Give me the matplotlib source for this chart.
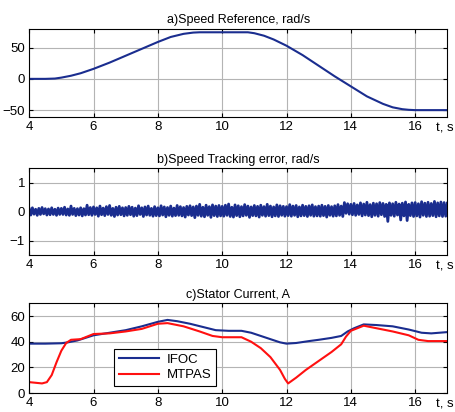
import numpy as np
import matplotlib.pyplot as plt

plt.rcParams['font.family'] = ['Liberation Sans', 'DejaVu Sans']

# a) speed reference, rad/s
t_ref = [4.0, 4.5, 4.8, 5.0, 5.3, 5.6, 6.0, 6.5, 7.0, 7.5, 8.0, 8.4, 8.8, 9.1, 9.3,
         10.0, 10.8, 11.0, 11.3, 11.6, 12.0, 12.5, 13.0, 13.5, 14.0, 14.5, 15.0,
         15.3, 15.6, 15.8, 16.0, 17.0]
w_ref = [0, 0, 0.5, 2, 5, 9, 16, 26, 37, 48, 59, 67, 72, 74, 74.5,
         74.5, 74.5, 73, 69, 63, 53, 38, 21, 4, -12, -28, -40,
         -45.5, -48.5, -49.5, -50, -50]

# b) speed tracking error, rad/s (one row per second)
err = [
    0.10, -0.12, 0.13, -0.09, 0.08, -0.13, 0.11, -0.10, 0.14, -0.08, 0.10, -0.12, 0.09, -0.11, 0.13, -0.10, 0.08, -0.13, 0.12, -0.10,
    0.11, -0.10, 0.15, -0.12, 0.09, -0.13, 0.19, -0.10, 0.11, -0.14, 0.10, -0.12, 0.13, -0.15, 0.10, -0.12, 0.22, -0.11, 0.14, -0.13,
    0.16, -0.10, 0.13, -0.16, 0.19, -0.11, 0.12, -0.14, 0.17, -0.10, 0.21, -0.13, 0.11, -0.17, 0.15, -0.12, 0.18, -0.11, 0.13, -0.15,
    0.14, -0.13, 0.18, -0.11, 0.15, -0.16, 0.12, -0.14, 0.20, -0.10, 0.13, -0.17, 0.16, -0.12, 0.19, -0.13, 0.11, -0.16, 0.17, -0.14,
    0.13, -0.15, 0.20, -0.12, 0.16, -0.18, 0.14, -0.13, 0.19, -0.16, 0.12, -0.14, 0.21, -0.13, 0.17, -0.15, 0.14, -0.19, 0.18, -0.12,
    0.20, -0.14, 0.16, -0.21, 0.19, -0.13, 0.25, -0.16, 0.15, -0.18, 0.22, -0.13, 0.17, -0.20, 0.23, -0.14, 0.19, -0.17, 0.21, -0.15,
    0.18, -0.16, 0.22, -0.13, 0.26, -0.17, 0.15, -0.19, 0.23, -0.14, 0.20, -0.18, 0.17, -0.15, 0.24, -0.13, 0.19, -0.20, 0.16, -0.14,
    0.21, -0.15, 0.18, -0.19, 0.22, -0.13, 0.17, -0.16, 0.25, -0.14, 0.19, -0.18, 0.16, -0.15, 0.23, -0.17, 0.20, -0.13, 0.18, -0.16,
    0.17, -0.14, 0.24, -0.16, 0.19, -0.13, 0.21, -0.18, 0.16, -0.15, 0.22, -0.14, 0.18, -0.17, 0.20, -0.13, 0.23, -0.16, 0.17, -0.15,
    0.19, -0.16, 0.22, -0.14, 0.18, -0.19, 0.21, -0.13, 0.17, -0.16, 0.20, -0.15, 0.24, -0.13, 0.19, -0.17, 0.31, -0.06, 0.27, -0.09,
    0.25, -0.11, 0.28, -0.13, 0.23, -0.10, 0.30, -0.15, 0.26, -0.12, 0.32, -0.14, 0.24, -0.18, 0.29, -0.13, 0.27, -0.16, 0.31, -0.11,
    0.28, -0.17, 0.25, -0.34, 0.30, -0.13, 0.27, -0.16, 0.32, -0.12, 0.26, -0.29, 0.29, -0.15, 0.33, -0.31, 0.25, -0.14, 0.30, -0.17,
    0.31, -0.15, 0.27, -0.19, 0.34, -0.13, 0.29, -0.17, 0.32, -0.16, 0.28, -0.14, 0.35, -0.18, 0.30, -0.15, 0.33, -0.17, 0.31, -0.16,
    0.29,
]
t_err = np.linspace(4, 17, len(err))

# c) stator current, A
t_ifoc = [4.0, 4.5, 5.0, 5.2, 5.5, 6.0, 6.5, 7.0, 7.5, 8.0, 8.3, 8.6, 9.0, 9.4, 9.8, 10.2,
          10.6, 10.9, 11.2, 11.5, 11.8, 12.0, 12.3, 12.7, 13.0, 13.4, 13.7, 13.9, 14.1,
          14.4, 14.8, 15.3, 15.8, 16.2, 16.5, 17.0]
i_ifoc = [38.5, 38.5, 38.8, 39.5, 41, 45, 47, 49, 52, 55.5, 57, 56, 54, 51.5, 49, 48.5,
          48.5, 47, 44.5, 42, 39.5, 38.5, 39, 40.5, 41.5, 43, 44.5, 48, 50.5,
          53.5, 53, 52, 49.5, 47, 46.5, 47.5]
t_mtpas = [4.0, 4.2, 4.4, 4.55, 4.7, 4.85, 5.0, 5.15, 5.3, 5.6, 6.0, 6.5, 7.0, 7.5, 8.0, 8.3,
           8.8, 9.3, 9.7, 10.0, 10.6, 10.9, 11.2, 11.5, 11.8, 11.95, 12.05, 12.3, 12.6,
           13.0, 13.4, 13.7, 13.85, 14.0, 14.2, 14.4, 14.8, 15.3, 15.8, 16.1, 16.4, 17.0]
i_mtpas = [8.5, 8, 7.5, 8.5, 14, 24, 33, 39, 41.5, 42, 46, 46.5, 48, 50, 54, 54.5,
           52, 48, 44.5, 43.5, 43.5, 40, 35, 28, 18, 11, 7.5, 12, 18,
           25, 32, 38, 44, 48.5, 50.5, 52.5, 50.5, 48, 45, 41.5, 40.5, 40.5]

blue = '#1a2d8f'
red = '#ff1010'

fig = plt.figure(figsize=(4.56, 4.12), dpi=100)
ax1 = fig.add_axes([0.064, 0.716, 0.917, 0.214])
ax2 = fig.add_axes([0.064, 0.381, 0.917, 0.211])
ax3 = fig.add_axes([0.064, 0.046, 0.917, 0.218])

ax1.plot(t_ref, w_ref, color=blue, lw=1.5)
ax1.set_ylim(-61, 80)
ax1.set_yticks([-50, 0, 50])
ax1.set_title('a)Speed Reference, rad/s', fontsize=9, pad=4)

ax2.plot(t_err, err, color=blue, lw=2.0)
ax2.set_ylim(-1.5, 1.5)
ax2.set_yticks([-1, 0, 1])
ax2.set_title('b)Speed Tracking error, rad/s', fontsize=9, pad=4)

ax3.plot(t_ifoc, i_ifoc, color=blue, lw=1.5, label='IFOC')
ax3.plot(t_mtpas, i_mtpas, color=red, lw=1.5, label='MTPAS')
ax3.set_ylim(0, 70)
ax3.set_yticks([0, 20, 40, 60])
ax3.set_title('c)Stator Current, A', fontsize=9, pad=4)
leg = ax3.legend(loc='upper left', bbox_to_anchor=(0.188, 0.565), fontsize=9.5,
                 fancybox=False, framealpha=1, edgecolor='black',
                 handlelength=3.0, borderpad=0.35, labelspacing=0.25, handletextpad=0.6)
leg.get_frame().set_linewidth(0.8)

for ax in (ax1, ax2, ax3):
    ax.set_xlim(4, 17)
    ax.set_xticks([4, 6, 8, 10, 12, 14, 16])
    ax.grid(True, color='#b4b4b4', lw=0.8)
    ax.tick_params(direction='in', top=True, right=True, length=3, labelsize=9.5, pad=3)
    for s in ax.spines.values():
        s.set_linewidth(0.8)
    ax.annotate('t, s', xy=(1.0, 0), xycoords='axes fraction', xytext=(-2, -4),
                textcoords='offset points', ha='center', va='top', fontsize=9.5)

fig.savefig('out.png', dpi=100)
